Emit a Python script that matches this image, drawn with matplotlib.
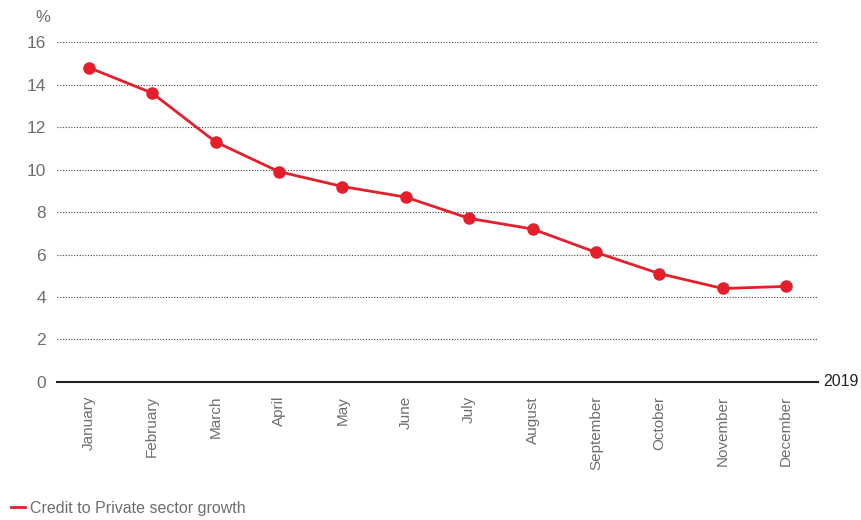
import matplotlib
matplotlib.use("Agg")
import matplotlib.pyplot as plt
from matplotlib.lines import Line2D

months = ["January", "February", "March", "April", "May", "June",
          "July", "August", "September", "October", "November", "December"]
credit_growth = [14.8, 13.6, 11.3, 9.9, 9.2, 8.7, 7.7, 7.2, 6.1, 5.1, 4.4, 4.5]
y_ticks = [0, 2, 4, 6, 8, 10, 12, 14, 16]
series_label = "Credit to Private sector growth"
year_label = "2019"

red = "#e41e2b"
grey = "#6d6e71"

plt.rcParams['font.family'] = ['Liberation Sans', 'DejaVu Sans']

fig = plt.figure(figsize=(8.61, 5.2), dpi=100)
ax = fig.add_axes([0.0662, 0.2654, 0.8838, 0.6538])

x = list(range(len(months)))
ax.plot(x, credit_growth, color=red, lw=2.0, marker='o', ms=8, zorder=3)

ax.set_xlim(-0.5, 11.5)
ax.set_ylim(0, 16)
ax.set_yticks(y_ticks)
ax.set_yticklabels([str(v) for v in y_ticks], fontsize=12.5, color=grey)
ax.set_xticks(x)
ax.set_xticklabels(months, rotation=90, fontsize=11, color=grey)
ax.tick_params(axis='both', length=0)
ax.tick_params(axis='y', pad=8)
ax.tick_params(axis='x', pad=10)

for v in y_ticks[1:]:
    ax.axhline(v, color="#444444", lw=0.8, ls=(0, (1, 1.5)), zorder=1)
ax.axhline(0, color="#222222", lw=1.5, zorder=2, clip_on=False)

for s in ax.spines.values():
    s.set_visible(False)

fig.text(35 / 861, 1 - 17 / 520, "%", fontsize=12, color=grey, ha='left', va='center')
fig.text(859 / 861, 1 - 381 / 520, year_label, fontsize=11.5, color="#222222", ha='right', va='center')

handle = Line2D([], [], color=red, lw=2)
fig.legend([handle], [series_label], loc='center left', bbox_to_anchor=(3 / 861, 1 - 508 / 520),
           frameon=False, fontsize=11.5, handlelength=0.9, handletextpad=0.3,
           labelcolor=grey, borderpad=0)

fig.savefig("out.png", dpi=100)
